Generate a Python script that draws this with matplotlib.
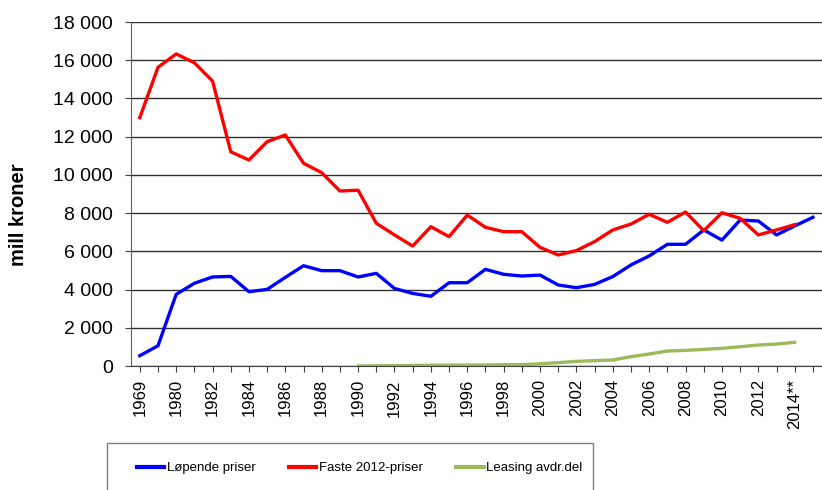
import matplotlib.pyplot as plt
from matplotlib import font_manager
from matplotlib.patches import Rectangle

plt.rcParams['font.family'] = ['Liberation Sans', 'DejaVu Sans']

# Categories (every other one labelled on the axis)
years = ["1969", "1979"] + [str(y) for y in range(1980, 2014)] + ["2014**", "2015"]

lopende = [540, 1060, 3750, 4330, 4660, 4690, 3890, 4010, 4640, 5250,
           4990, 4990, 4660, 4850, 4060, 3800, 3650, 4360, 4360, 5060,
           4800, 4710, 4760, 4240, 4100, 4270, 4680, 5290, 5760, 6370,
           6370, 7120, 6590, 7640, 7590, 6860, 7330, 7780]

faste = [13000, 15630, 16330, 15870, 14910, 11210, 10780, 11740, 12090, 10610,
         10120, 9160, 9200, 7470, 6860, 6280, 7290, 6770, 7900, 7260,
         7030, 7030, 6210, 5810, 6040, 6510, 7120, 7430, 7940, 7520,
         8060, 7080, 8020, 7730, 6860, 7120, 7400, None]

leasing = [None] * 12 + [0, 10, 20, 30, 40, 45, 50, 50, 70, 70,
                         120, 175, 245, 280, 315, 490, 630, 785, 820, 870,
                         925, 1010, 1100, 1150, 1240, None]

x = list(range(len(years)))

# narrow font for the legend if it is there
names = {f.name for f in font_manager.fontManager.ttflist}
if "Liberation Sans Narrow" in names:
    leg_font = {"family": "Liberation Sans Narrow", "size": 11}
else:
    leg_font = {"family": "Liberation Sans", "size": 9.5}

fig = plt.figure(figsize=(8.22, 4.9), dpi=100)
ax = fig.add_axes([0.159, 0.253, 0.841, 0.702])

ax.plot(x, lopende, color="#0000FF", lw=2.4, label="Løpende priser")
ax.plot(x, faste, color="#FF0000", lw=2.4, label="Faste 2012-priser")
ax.plot(x, leasing, color="#9BBB59", lw=2.4, label="Leasing avdr.del")

ax.set_xlim(-0.5, 37.5)
ax.set_ylim(0, 18000)
ax.set_yticks(range(0, 18001, 2000))
ax.set_yticklabels([f"{v:,}".replace(",", " ") for v in range(0, 18001, 2000)], fontsize=14)
ax.set_xticks(x)
ax.set_xticklabels([y if i % 2 == 0 else "" for i, y in enumerate(years)],
                   rotation=90, fontsize=12)
ax.tick_params(axis="both", direction="out", length=4.5, color="#404040")
ax.tick_params(axis="y", pad=8.5)
ax.tick_params(axis="x", pad=5)
ax.yaxis.grid(True, color="#303030", lw=1)
ax.set_axisbelow(True)
for s in ["top", "right"]:
    ax.spines[s].set_visible(False)
ax.spines["left"].set_color("#606060")
ax.spines["bottom"].set_color("#404040")

ax.set_ylabel("mill kroner", fontsize=14.5, fontweight="bold")
ax.yaxis.set_label_coords(-0.148, 0.439)

# legend box, cut off at the bottom as in the original
fig.patches.append(Rectangle((107 / 822, -0.1), 486 / 822, 47 / 490 + 0.1,
                             transform=fig.transFigure, fill=False,
                             edgecolor="#808080", lw=1))
leg = fig.legend(loc="center left", bbox_to_anchor=(130 / 822, 1 - 468 / 490),
                 ncol=3, prop=leg_font, frameon=False, borderpad=0,
                 handlelength=2.1, handletextpad=0.2, columnspacing=2.5)
for line in leg.get_lines():
    line.set_linewidth(3)

plt.savefig("out.png", dpi=100)
